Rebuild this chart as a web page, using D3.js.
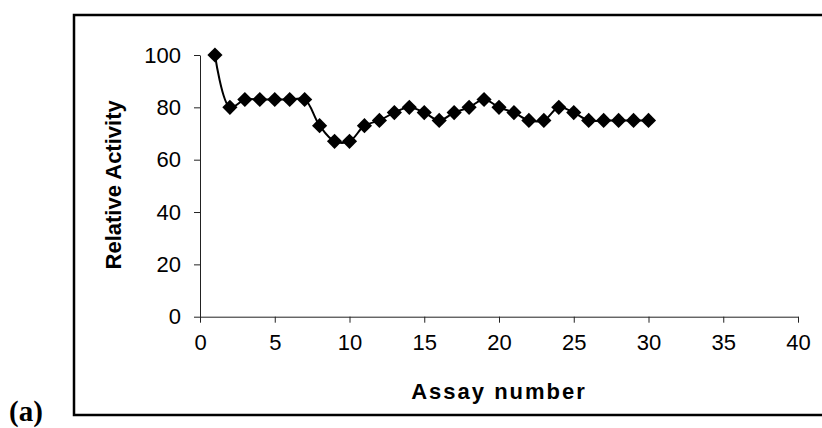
<!DOCTYPE html>
<html>
<head>
<meta charset="utf-8">
<script src="https://cdn.jsdelivr.net/npm/d3@7"></script>
<style>
  body { margin: 0; background: #fff; }
  svg { display: block; }
</style>
</head>
<body>
<div id="graph"></div>
<script>
// assay number vs relative activity
let assays = d3.range(1, 31);
let activity = [100, 80, 83, 83, 83, 83, 83, 73, 67, 67,
                73, 75, 78, 80, 78, 75, 78, 80, 83, 80,
                78, 75, 75, 80, 78, 75, 75, 75, 75, 75];
let xTicks = [0, 5, 10, 15, 20, 25, 30, 35, 40];
let yTicks = [0, 20, 40, 60, 80, 100];

let fullW = 822, fullH = 428;
let margin = { top: 55, right: 24, bottom: 112, left: 200 },
  width = 798 - margin.left,
  height = 316.7 - margin.top;

let svg = d3.select("#graph").append("svg")
  .attr("width", fullW).attr("height", fullH);

// outer frame round the chart
svg.append("rect")
  .attr("x", 74).attr("y", 15)
  .attr("width", 760).attr("height", 400)
  .attr("fill", "none").attr("stroke", "#000").attr("stroke-width", 2.5);

// panel label
svg.append("text")
  .attr("x", 9).attr("y", 421)
  .style("font-family", "'Liberation Serif', 'Times New Roman', serif")
  .style("font-weight", "bold").style("font-size", "29px")
  .text("(a)");

let g = svg.append("g").attr("transform", `translate(${margin.left},${margin.top})`);

let x = d3.scaleLinear().domain([0, 40]).range([0, width]);
let y = d3.scaleLinear().domain([0, 100]).range([height, 0]);

// axes
let xAxis = g.append("g").attr("id", "xAxis")
  .attr("transform", `translate(0,${height})`)
  .call(d3.axisBottom(x).tickValues(xTicks).tickSize(6).tickSizeOuter(0).tickPadding(12));
let yAxis = g.append("g").attr("id", "yAxis")
  .call(d3.axisLeft(y).tickValues(yTicks).tickSize(6).tickSizeOuter(0).tickPadding(13));

g.selectAll(".domain, .tick line").attr("stroke", "#222").attr("stroke-width", 1);
g.selectAll(".tick text")
  .style("font-family", "'Liberation Sans', Arial, sans-serif")
  .style("font-size", "22px").attr("fill", "#000");

// axis titles
g.append("text")
  .attr("x", width / 2).attr("y", height + 82)
  .attr("text-anchor", "middle")
  .style("font-family", "'Liberation Sans', Arial, sans-serif")
  .style("font-weight", "bold").style("font-size", "22px")
  .style("letter-spacing", "2px")
  .text("Assay number");

g.append("text")
  .attr("transform", `translate(-79,${height / 2 - 1}) rotate(-90)`)
  .attr("text-anchor", "middle")
  .style("font-family", "'Liberation Sans', Arial, sans-serif")
  .style("font-weight", "bold").style("font-size", "22px")
  .text("Relative Activity");

// smoothed line + diamond markers
let pts = assays.map((a, i) => ({ a: a, v: activity[i] }));
let line = d3.line()
  .x(d => x(d.a)).y(d => y(d.v))
  .curve(d3.curveCatmullRom.alpha(0.5));

g.append("path").datum(pts)
  .attr("d", line)
  .attr("fill", "none").attr("stroke", "#000").attr("stroke-width", 2);

let diamond = d3.symbol().type(d3.symbolSquare).size(115);
g.selectAll(".marker").data(pts).join("path")
  .attr("class", "marker")
  .attr("d", diamond)
  .attr("transform", d => `translate(${x(d.a)},${y(d.v)}) rotate(45)`)
  .attr("fill", "#000");
</script>
</body>
</html>
